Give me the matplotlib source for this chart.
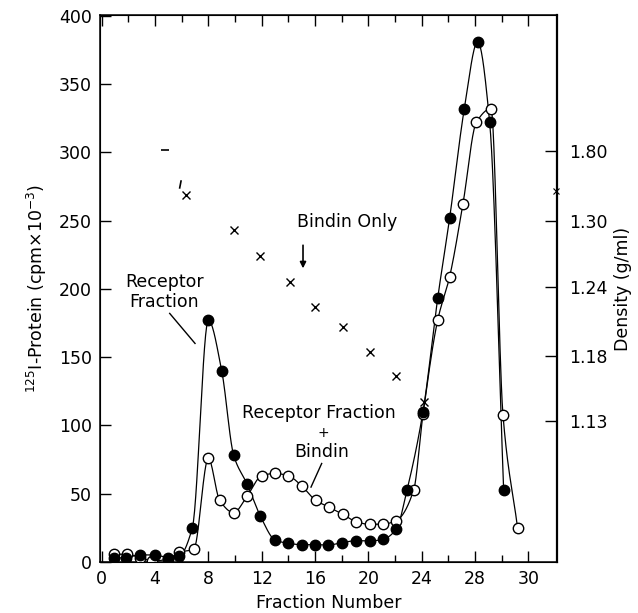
import numpy as np
import matplotlib.pyplot as plt

# ----------------------
# DATA
# ----------------------
# Receptor Fraction (filled circles)
rf_x = [0.9, 1.8, 2.9, 4.0, 5.0, 5.8, 6.8, 8.0, 9.0, 9.9, 10.9, 11.9, 13.0, 14.0, 15.0,
        16.0, 17.0, 18.0, 19.1, 20.1, 21.1, 22.1, 22.9, 24.1, 25.2, 26.1, 27.2, 28.2,
        29.1, 30.15]
rf_y = [2.5, 3, 5, 5, 3, 4, 25, 177, 140, 78, 57, 33.5, 16, 13.5, 12.5,
        12.5, 12.2, 14, 15.4, 15.2, 16.4, 24, 52.5, 110, 193, 252, 332, 381,
        322, 52.5]

# Receptor Fraction + Bindin (open circles)
rb_x = [0.9, 1.9, 2.9, 3.8, 5.0, 5.8, 6.9, 8.0, 8.85, 9.9, 10.9, 12.0, 13.0, 14.0, 15.0,
        16.05, 17.05, 18.1, 19.1, 20.1, 21.1, 22.05, 23.4, 24.1, 25.2, 26.1, 27.1, 28.1,
        29.2, 30.1, 31.2]
rb_y = [5.5, 5.5, 3, 0.5, 2, 7, 9, 75.7, 45, 36, 48, 63, 64.7, 63, 55.6,
        45, 40, 34.7, 29.3, 27.4, 27.6, 29.8, 52.5, 108, 177, 209, 262.5, 322,
        332, 107.5, 24.5]

# density marks (x), plotted on the left-axis scale
dens_x = [6.3, 9.9, 11.9, 14.1, 16.0, 18.1, 20.1, 22.1, 24.2]
dens_y = [269, 243, 224, 205, 187, 172, 153.7, 136, 117]

# right axis (density) labels
dens_ticks = [103, 151, 201, 250, 301]
dens_labels = ["1.13", "1.18", "1.24", "1.30", "1.80"]

x_ticks = [0, 4, 8, 12, 16, 20, 24, 28, 32]
x_labels = ["0", "4", "8", "12", "16", "20", "24", "28", "30"]
y_ticks = [0, 50, 100, 150, 200, 250, 300, 350, 400]


def smooth(x, y, n=30):
    # monotone cubic curve through the points (hand drawn look)
    x = np.asarray(x, float)
    y = np.asarray(y, float)
    h = np.diff(x)
    d = np.diff(y) / h
    m = np.zeros_like(y)
    for k in range(1, len(x) - 1):
        if d[k - 1] * d[k] > 0:
            w1 = 2 * h[k] + h[k - 1]
            w2 = h[k] + 2 * h[k - 1]
            m[k] = (w1 + w2) / (w1 / d[k - 1] + w2 / d[k])
    m[0], m[-1] = d[0], d[-1]
    xs, ys = [], []
    t = np.linspace(0, 1, n)
    for k in range(len(x) - 1):
        h00 = 2 * t**3 - 3 * t**2 + 1
        h10 = t**3 - 2 * t**2 + t
        h01 = -2 * t**3 + 3 * t**2
        h11 = t**3 - t**2
        ys.append(h00 * y[k] + h10 * h[k] * m[k] + h01 * y[k + 1] + h11 * h[k] * m[k + 1])
        xs.append(x[k] + t * h[k])
    return np.concatenate(xs), np.concatenate(ys)


plt.rcParams["font.family"] = ["DejaVu Sans"]
FS = 12.5

fig = plt.figure(figsize=(6.38, 6.13), dpi=100)
ax = fig.add_axes([0.1567, 0.0832, 0.7163, 0.8923])

sx, sy = smooth(rf_x, rf_y)
ax.plot(sx, sy, color="black", lw=0.9, zorder=2)
sx, sy = smooth(rb_x, rb_y)
ax.plot(sx, sy, color="black", lw=0.9, zorder=2)

ax.plot(rb_x, rb_y, "o", ms=7.5, mfc="white", mec="black", mew=1.0, zorder=3)
ax.plot(rf_x, rf_y, "o", ms=7.5, mfc="black", mec="black", zorder=4)

ax.plot(dens_x, dens_y, "x", ms=5.5, mew=1.0, color="black", zorder=3)
ax.plot([4.75], [301.6], "_", ms=6, mew=1.2, color="black")
ax.plot([5.85, 5.95], [274, 279], color="black", lw=1.2)
ax.plot([34.1], [272], "x", ms=4, mew=0.8, color="black", clip_on=False)

# annotations
ax.text(18.4, 249, "Bindin Only", fontsize=FS, ha="center", va="center")
ax.annotate("", xy=(15.1, 213), xytext=(15.1, 234),
            arrowprops=dict(arrowstyle="-|>", lw=1.2, color="black", mutation_scale=9))

ax.text(4.7, 197.5, "Receptor\nFraction", fontsize=FS, ha="center", va="center",
        linespacing=1.15)
ax.plot([5.1, 7.0], [182, 160], color="black", lw=1.0)

ax.text(16.3, 109, "Receptor Fraction", fontsize=FS, ha="center", va="center")
ax.text(16.6, 94.5, "+", fontsize=10, ha="center", va="center")
ax.text(16.5, 80.4, "Bindin", fontsize=FS, ha="center", va="center")
ax.plot([16.5, 15.7], [72, 54.7], color="black", lw=1.0)

# axes
ax.set_xlim(-0.13, 34.15)
ax.set_ylim(-0.2, 400.7)
ax.set_xticks(x_ticks)
ax.set_xticklabels(x_labels)
ax.set_xticks(np.arange(2, 32, 4), minor=True)
ax.set_yticks(y_ticks)
ax.tick_params(axis="both", which="major", direction="in", length=8, width=1.0,
               labelsize=FS, pad=6)
ax.tick_params(axis="x", which="minor", direction="in", length=5, width=1.0, top=True)
ax.tick_params(axis="x", which="major", top=True)
ax.set_xlabel("Fraction Number", fontsize=FS, labelpad=4)
ax.set_ylabel(r"$^{125}$I-Protein (cpm$\times$10$^{-3}$)", fontsize=FS, labelpad=7)
for s in ax.spines.values():
    s.set_linewidth(1.1)

ax2 = ax.twinx()
ax2.set_ylim(ax.get_ylim())
ax2.set_yticks(dens_ticks)
ax2.set_yticklabels(dens_labels)
ax2.tick_params(axis="y", direction="in", length=9, width=1.0, labelsize=FS, pad=9)
ax2.set_ylabel("Density (g/ml)", fontsize=FS, labelpad=4)
ax2.spines["right"].set_linewidth(1.6)

fig.savefig("out.png", dpi=100)
